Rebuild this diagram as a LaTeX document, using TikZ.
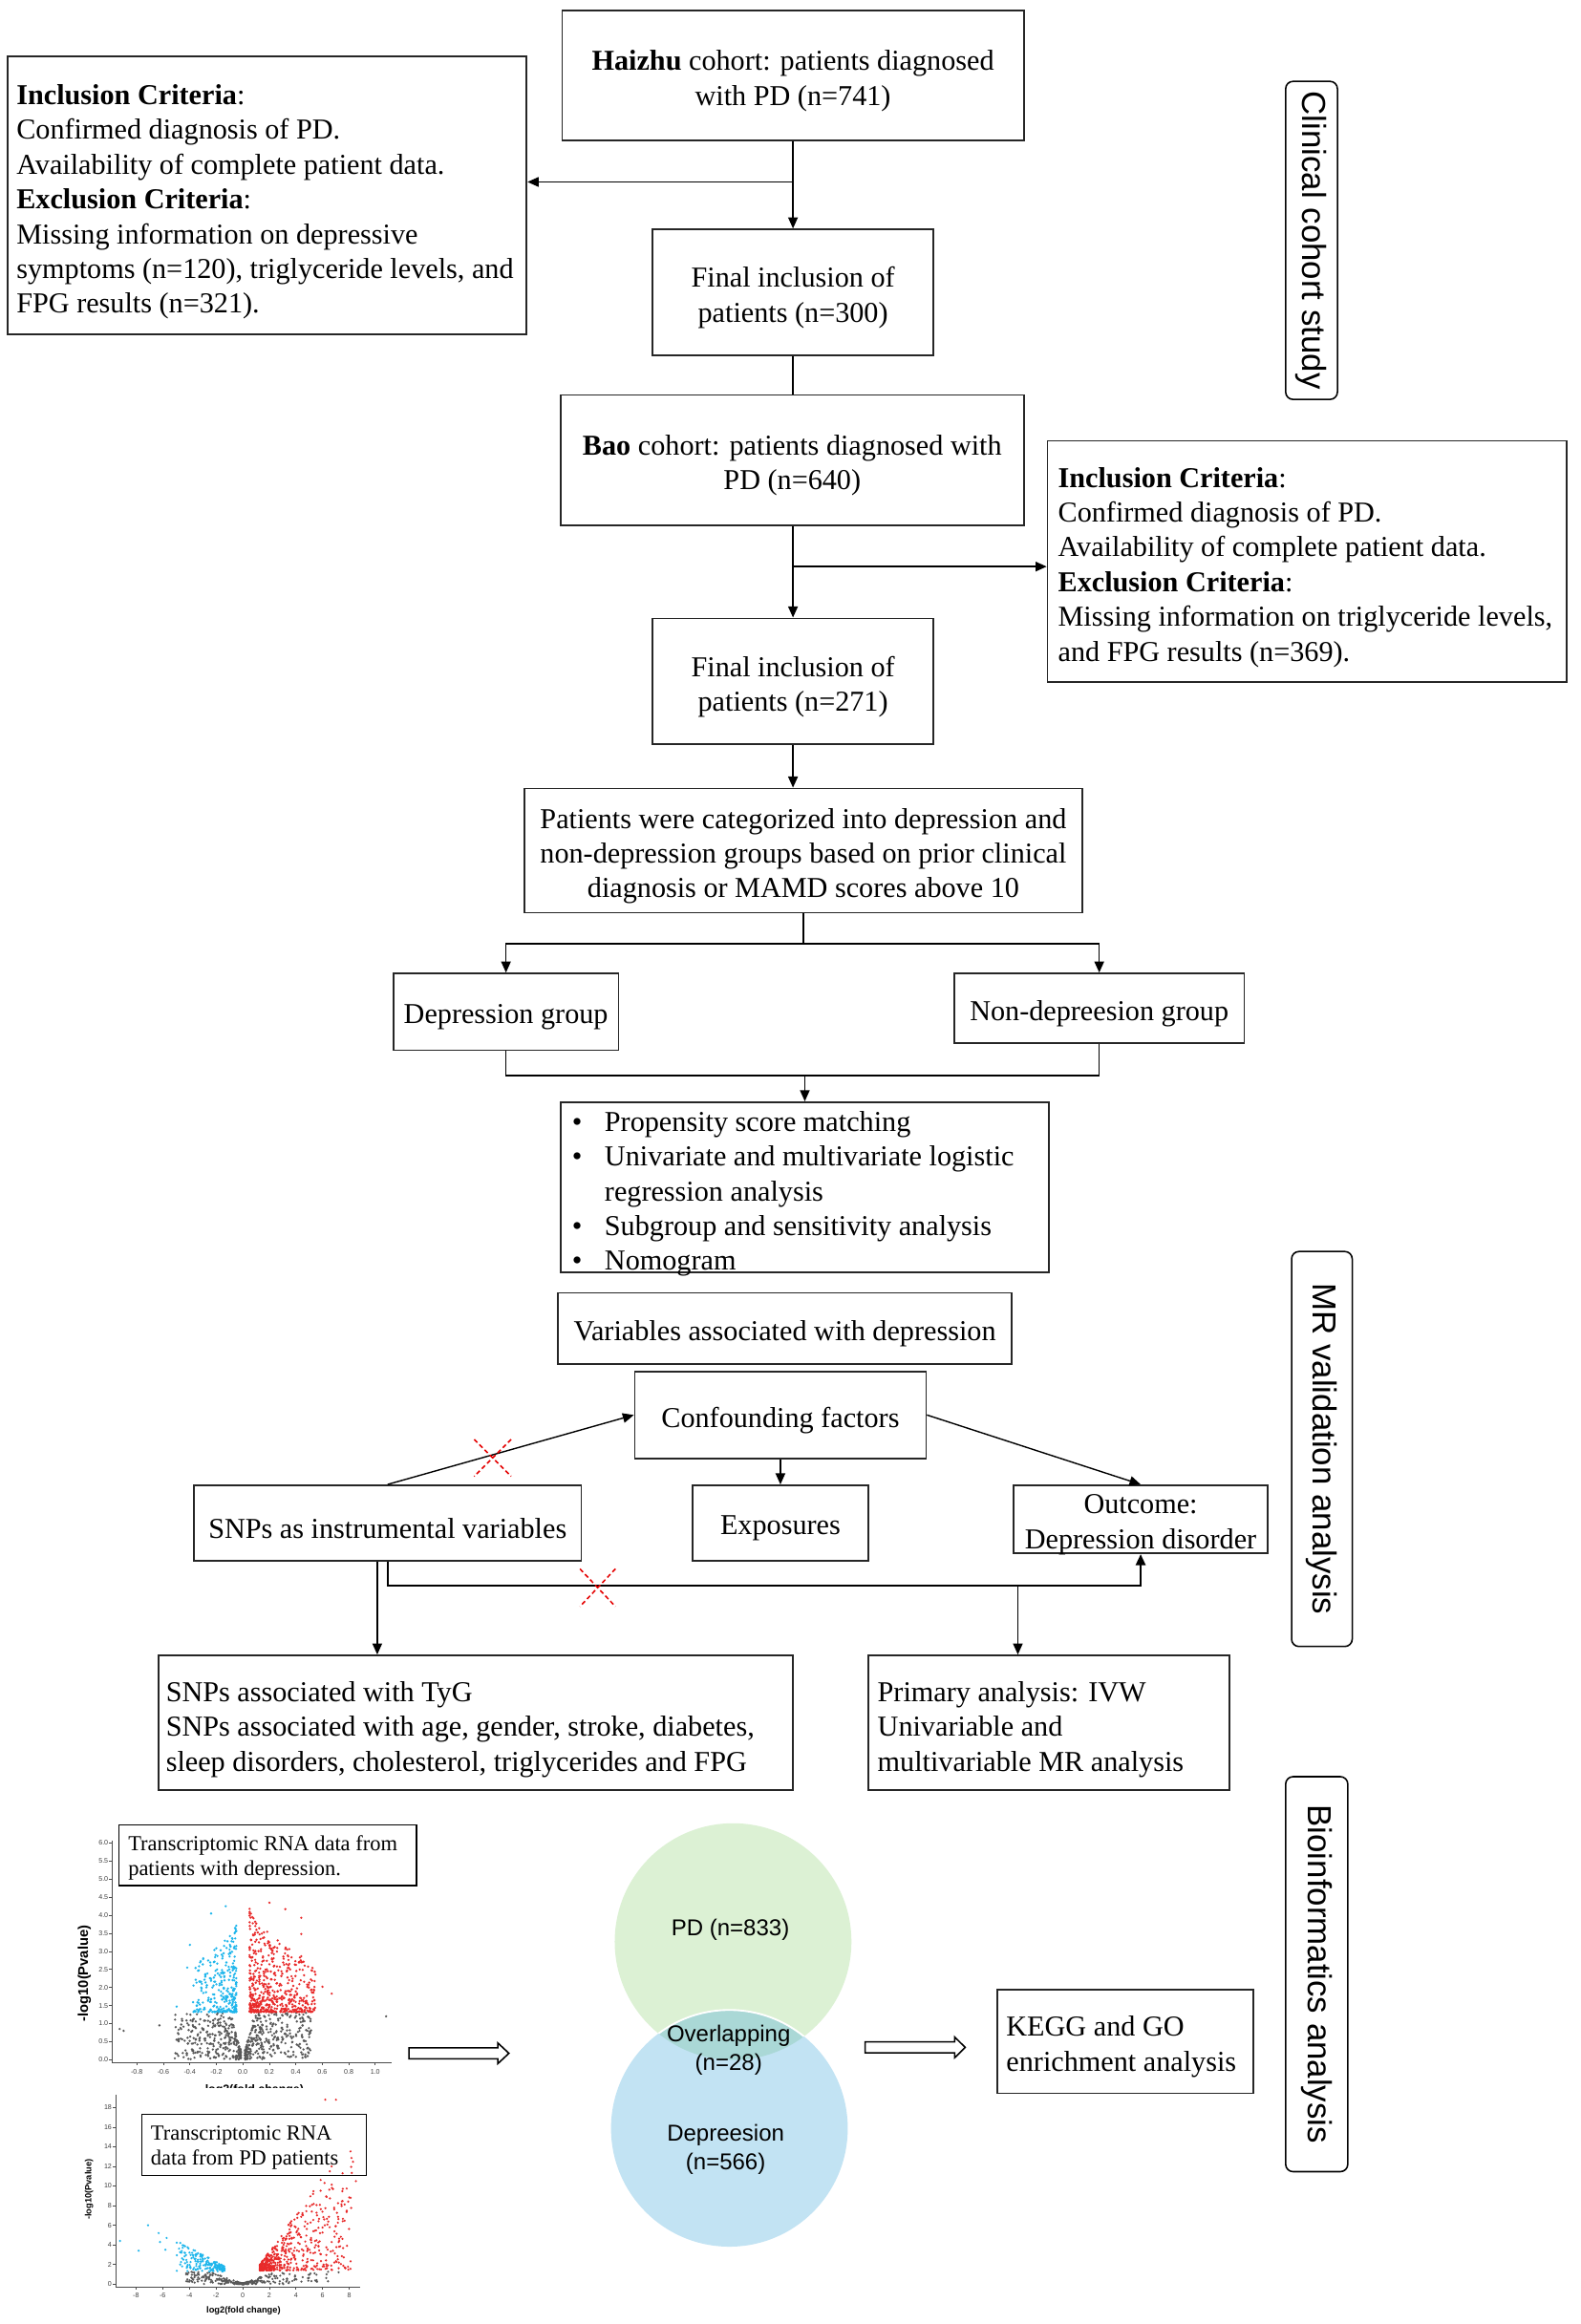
\documentclass[tikz,border=0pt]{standalone}
\usepackage{fontspec}
\setmainfont{Liberation Serif}
\newfontfamily\sansf{Liberation Sans}
\usetikzlibrary{arrows.meta,calc}
\definecolor{vred}{RGB}{232,42,42}
\definecolor{vblue}{RGB}{30,182,236}
\definecolor{vgrey}{RGB}{88,88,88}
\definecolor{vengreen}{RGB}{220,241,212}
\definecolor{venblue}{RGB}{194,227,243}
\definecolor{venlens}{RGB}{170,216,214}
\newcommand\msz{\fontsize{19.5}{23.5}\selectfont}
\newcommand\lsz{\fontsize{14.5}{17}\selectfont}
\newcommand\tk{\sansf\fontsize{4.6}{5}\selectfont}
% box with centred text: name, centre, width, height, text
\newcommand\mybox[5]{%
  \node[box,minimum width=#3,minimum height=#4] (#1) at (#2) {};
  \node[align=center,inner sep=0pt] (#1t) at ([yshift=-3.7pt]#1.center) {#5};}
\begin{document}
\begin{tikzpicture}[x=1pt,y=-1pt,font=\msz,
  box/.style={draw=black!85,line width=1.1pt,inner sep=0pt,align=center},
  txt/.style={anchor=west,align=left,inner sep=0pt},
  arr/.style={-{Triangle[length=7.5pt,width=6.5pt]},line width=0.9pt},
  ln/.style={line width=0.9pt},
  side/.style={draw,rounded corners=5pt,line width=1pt,rotate=-90,inner sep=0pt,font=\sansf\fontsize{22.5}{26}\selectfont},
  cross/.style={draw=red!90!black,line width=1pt,dash pattern=on 3pt off 2pt},
  lbox/.style={draw,line width=0.9pt,inner sep=0pt},
  hollow/.style={draw,line width=1pt,fill=white}]
\fill[white] (0,0) rectangle (1068,1571);
\useasboundingbox (0,0) rectangle (1068,1571);

% ---------- Clinical cohort ----------
\mybox{haizhu}{536,51}{312}{88}{\textbf{Haizhu} cohort: patients diagnosed\\with PD (n=741)}
\node[box,minimum width=351,minimum height=188] (incl1) at (180.5,132) {};
\node[txt] (incl1t) at (11,136.5) {\textbf{Inclusion Criteria}:\\Confirmed diagnosis of PD.\\Availability of complete patient data.\\\textbf{Exclusion Criteria}:\\Missing information on depressive\\symptoms (n=120), triglyceride levels, and\\FPG results (n=321).};
\mybox{final1}{536,197.5}{190}{85}{Final inclusion of\\patients (n=300)}
\mybox{bao}{535.5,311}{313}{88}{\textbf{Bao} cohort: patients diagnosed with\\PD (n=640)}
\node[box,minimum width=351,minimum height=163] (incl2) at (883.5,379.5) {};
\node[txt] (incl2t) at (715,383.5) {\textbf{Inclusion Criteria}:\\Confirmed diagnosis of PD.\\Availability of complete patient data.\\\textbf{Exclusion Criteria}:\\Missing information on triglyceride levels,\\and FPG results (n=369).};
\mybox{final2}{536,460.5}{190}{85}{Final inclusion of\\patients (n=271)}
\mybox{categ}{543,575}{377}{84}{Patients were categorized into depression and\\non-depression groups based on prior clinical\\diagnosis or MAMD scores above 10}
\mybox{dep}{342,684}{152}{52}{Depression group}
\mybox{nondep}{743,681.5}{196}{47}{Non-depreesion group}
\node[box,minimum width=330,minimum height=115] (bullets) at (544,802.5) {};
\node[txt] (bullt) at (386.5,807) {%
\begin{tabular}{@{}p{22pt}@{}l@{}}
\textbullet & Propensity score matching\\
\textbullet & Univariate and multivariate logistic\\
 & regression analysis\\
\textbullet & Subgroup and sensitivity analysis\\
\textbullet & Nomogram
\end{tabular}};

\draw[arr] (haizhu.south) -- (final1.north);
\coordinate (b1) at (536,123);
\draw[arr] (b1) -- (b1 -| incl1.east);
\draw[ln] (final1.south) -- (final1.south |- bao.north);
\draw[arr] (final1.south |- bao.south) -- (final1.south |- final2.north);
\coordinate (b2) at (536,383);
\draw[arr] (b2) -- (b2 -| incl2.west);
\draw[arr] (final2.south) -- (final2.south |- categ.north);
\coordinate (s1) at (543,638);
\draw[ln] (categ.south) -- (s1);
\draw[arr] (s1) -| (dep.north);
\draw[arr] (s1) -| (nondep.north);
\coordinate (s2) at (544,727);
\draw[ln] (dep.south) -- (dep.south |- s2) -- (nondep.south |- s2) -- (nondep.south);
\draw[arr] (s2) -- (bullets.north);

% ---------- MR ----------
\mybox{vars}{530.5,898}{307}{48}{Variables associated with depression}
\mybox{conf}{527.5,956.5}{197}{59}{Confounding factors}
\mybox{snps}{262,1029.5}{262}{51}{SNPs as instrumental variables}
\mybox{expo}{527.5,1029.5}{119}{51}{Exposures}
\mybox{outc}{771,1027}{172}{46}{Outcome:\\Depression disorder}
\node[box,minimum width=429,minimum height=91] (tyg) at (321.5,1164.5) {};
\node[txt] (tygt) at (112,1169.2) {SNPs associated with TyG\\SNPs associated with age, gender, stroke, diabetes,\\sleep disorders, cholesterol, triglycerides and FPG};
\node[box,minimum width=244,minimum height=91] (prim) at (709,1164.5) {};
\node[txt] (primt) at (593,1169.2) {Primary analysis: IVW\\Univariable and\\multivariable MR analysis};

\draw[arr] (snps.north) -- (conf.west);
\draw[arr] (conf.south) -- (expo.north);
\draw[arr] (conf.east) -- (outc.north);
\coordinate (h1) at (262,1072);
\draw[arr,line width=1.5pt] (snps.south) -- (h1) -| (outc.south);
\draw[arr] ([xshift=-7pt]snps.south) -- ([xshift=-7pt]snps.south |- tyg.north);
\coordinate (h2) at (688,1072);
\draw[arr] (h2) -- (h2 |- prim.north);
\draw[cross] (320.5,973) -- (345.5,998) (345.5,973) -- (320.5,998);
\draw[cross] (392,1060.5) -- (416,1086) (416,1060.5) -- (392,1086);

% ---------- side labels ----------
\node[side,minimum width=215,minimum height=35] (lab1) at (886.5,162.5) {Clinical cohort study};
\node[side,minimum width=267,minimum height=41] (lab2) at (893.5,979.5) {MR validation analysis};
\node[side,minimum width=267,minimum height=42] (lab3) at (890,1334.5) {Bioinformatics analysis};

% ---------- volcano plot 1 ----------
\pgfmathsetseed{7}
\foreach \i in {1,...,600}{
  \pgfmathsetmacro\s{ifthenelse(rand<0,-1,1)}
  \pgfmathsetmacro\r{rnd}
  \pgfmathsetmacro\ax{0.015+0.5*\r*sqrt(\r)}
  \pgfmathsetmacro\ym{min(1.3,0.05+14*\ax)}
  \pgfmathsetmacro\yy{\ym*rnd}
  \fill[vgrey] ({164.2+89.6*\s*\ax},{1392.3-24.4*\yy}) circle (0.85);
}
\foreach \i in {1,...,300}{
  \pgfmathsetmacro\r{rnd}
  \pgfmathsetmacro\xx{-0.05-0.33*\r*\r}
  \pgfmathsetmacro\q{rnd}
  \pgfmathsetmacro\yy{1.32+2.7*\q*\q*(1-0.5*\r)}
  \fill[vblue] ({164.2+89.6*\xx},{1392.3-24.4*\yy}) circle (0.85);
}
\foreach \i in {1,...,560}{
  \pgfmathsetmacro\r{rnd}
  \pgfmathsetmacro\xx{0.05+0.5*\r*sqrt(\r)}
  \pgfmathsetmacro\q{rnd}
  \pgfmathsetmacro\yy{1.32+2.9*\q*\q*(1-0.55*\r)}
  \fill[vred] ({164.2+89.6*\xx},{1392.3-24.4*\yy}) circle (0.85);
}
\foreach \xx/\yy in {-0.93/0.85,-0.9/0.8,-0.63/0.95,1.08/1.2}{
  \fill[vgrey] ({164.2+89.6*\xx},{1392.3-24.4*\yy}) circle (0.85);}
\foreach \xx/\yy in {0.67/1.83,0.6/2.02,0.2/4.35,0.32/4.17,0.44/3.93,0.44/3.48}{
  \fill[vred] ({164.2+89.6*\xx},{1392.3-24.4*\yy}) circle (0.85);}
\foreach \xx/\yy in {-0.4/3.18,-0.42/2.55,-0.5/1.47,-0.24/4.05,-0.13/4.25}{
  \fill[vblue] ({164.2+89.6*\xx},{1392.3-24.4*\yy}) circle (0.85);}
\draw[black!70,line width=0.5pt] (75.7,1244) -- (75.7,1394.5) -- (264.7,1394.5);
\foreach \lab [count=\k from 0] in {0.0,0.5,1.0,1.5,2.0,2.5,3.0,3.5,4.0,4.5,5.0,5.5,6.0}{
  \draw[black!70,line width=0.4pt] (75.7,{1392.3-12.2*\k}) -- ++(-1.8,0);
  \node[anchor=east,inner sep=0pt,font=\tk,text=black!75] at (73.3,{1392.3-12.2*\k}) {\lab};}
\foreach \lab [count=\k from 0] in {-0.8,-0.6,-0.4,-0.2,0.0,0.2,0.4,0.6,0.8,1.0}{
  \draw[black!70,line width=0.4pt] ({92.5+17.9*\k},1394.5) -- ++(0,1.8);
  \node[inner sep=0pt,font=\tk,text=black!75] at ({92.5+17.9*\k},1400.5) {\lab};}
\node[rotate=90,inner sep=0pt,font=\sansf\bfseries\fontsize{9.5}{11}\selectfont] (yl1) at (57,1334) {-log10(Pvalue)};
\begin{scope}
  \clip (100,1400) rectangle (250,1411.2);
  \node[inner sep=0pt,font=\sansf\bfseries\fontsize{8}{9}\selectfont] (xl1) at (172,1413) {log2(fold change)};
\end{scope}
\node[lbox,minimum width=201.2,minimum height=41] (vl1) at (180.9,1254) {};
\node[txt,font=\lsz] (vl1t) at (86.5,1256) {Transcriptomic RNA data from\\patients with depression.};

% ---------- volcano plot 2 ----------
\foreach \i in {1,...,360}{
  \pgfmathsetmacro\s{ifthenelse(rand<0,-1,1)}
  \pgfmathsetmacro\r{rnd}
  \pgfmathsetmacro\ax{ifthenelse(\s<0,0.05+4.2*\r*\r,0.05+6.5*\r*\r*\r)}
  \pgfmathsetmacro\ym{min(1.3,0.05+0.5*\ax)}
  \pgfmathsetmacro\yy{\ym*rnd}
  \fill[vgrey] ({164+9.01*\s*\ax},{1544-6.63*\yy}) circle (0.8);
}
\foreach \i in {1,...,180}{
  \pgfmathsetmacro\r{rnd}
  \pgfmathsetmacro\ax{1.35+3.6*\r*sqrt(\r)}
  \pgfmathsetmacro\yy{1.3+rnd*(0.5+0.75*(\ax-1.35))}
  \fill[vblue] ({164-9.01*\ax},{1544-6.63*\yy}) circle (0.8);
}
\foreach \i in {1,...,600}{
  \pgfmathsetmacro\r{rnd}
  \pgfmathsetmacro\xx{1.3+7*\r*\r}
  \pgfmathsetmacro\q{rnd}
  \pgfmathsetmacro\yy{1.4+\q*sqrt(\q)*(0.6+1.9*(\xx-1.3))}
  \fill[vred] ({164+9.01*\xx},{1544-6.63*\yy}) circle (0.8);
}
\foreach \xx/\yy in {-9.2/4.4,-7.8/3.4,-7.1/6.0,-6.3/5.2,-6.2/4.3,-5.8/3.5,-5.7/4.7}{
  \fill[vblue] ({164+9.01*\xx},{1544-6.63*\yy}) circle (0.8);}
\foreach \xx/\yy in {6.2/18.8,7/18.8,8.5/10.5,7.5/11.3,6.1/1.8,6.4/1.9,8.1/8.8}{
  \fill[vred] ({164+9.01*\xx},{1544-6.63*\yy}) circle (0.8);}
\foreach \xx/\yy in {7.2/1.2,6.3/1.0,5.4/1.1,4.9/0.6}{
  \fill[vgrey] ({164+9.01*\xx},{1544-6.63*\yy}) circle (0.8);}
\draw[black!70,line width=0.5pt] (78.1,1416) -- (78.1,1546) -- (243.2,1546);
\foreach \v in {0,2,...,18}{
  \draw[black!70,line width=0.4pt] (78.1,{1544-6.63*\v}) -- ++(-1.8,0);
  \node[anchor=east,inner sep=0pt,font=\tk,text=black!75] at (75.7,{1544-6.63*\v}) {\v};}
\foreach \v in {-8,-6,...,8}{
  \draw[black!70,line width=0.4pt] ({164+9.01*\v},1546) -- ++(0,1.8);
  \node[inner sep=0pt,font=\tk,text=black!75] at ({164+9.01*\v},1551.5) {\v};}
\node[rotate=90,inner sep=0pt,font=\sansf\bfseries\fontsize{6}{7}\selectfont] (yl2) at (60.2,1480) {-log10(Pvalue)};
\node[inner sep=0pt,font=\sansf\bfseries\fontsize{6}{7}\selectfont] (xl2) at (164.6,1561.7) {log2(fold change)};
\node[lbox,minimum width=151.7,minimum height=41.5] (vl2) at (171.65,1450) {};
\node[txt,font=\lsz] (vl2t) at (101.8,1452) {Transcriptomic RNA\\data from PD patients};

% ---------- Venn ----------
\fill[vengreen] (495.5,1312.5) circle (80);
\fill[venblue] (493,1438.7) circle (80);
\begin{scope}
  \clip (495.5,1312.5) circle (80);
  \fill[venlens] (493,1438.7) circle (80);
  \draw[white,line width=1.2pt] (493,1438.7) circle (80);
\end{scope}
\node[font=\sansf\fontsize{15.5}{19.5}\selectfont,inner sep=0pt] (vpd) at (493.7,1304.5) {PD (n=833)};
\node[font=\sansf\fontsize{15.5}{19.5}\selectfont,inner sep=0pt,align=center] (vov) at (492.5,1386) {Overlapping\\(n=28)};
\node[font=\sansf\fontsize{15.5}{19.5}\selectfont,inner sep=0pt,align=center] (vdp) at (490.5,1453) {Depreesion\\(n=566)};

% hollow arrows
\draw[hollow] (276.5,1384.3) -- (336.5,1384.3) -- (336.5,1381) -- (344,1388) -- (336.5,1395) -- (336.5,1391.7) -- (276.5,1391.7) -- cycle;
\draw[hollow] (584.7,1380.3) -- (645.3,1380.3) -- (645.3,1377) -- (652.4,1384) -- (645.3,1391) -- (645.3,1387.7) -- (584.7,1387.7) -- cycle;

\node[box,minimum width=173,minimum height=70] (kegg) at (760.5,1380) {};
\node[txt] (keggt) at (680,1383.7) {KEGG and GO\\enrichment analysis};
\end{tikzpicture}
\end{document}
